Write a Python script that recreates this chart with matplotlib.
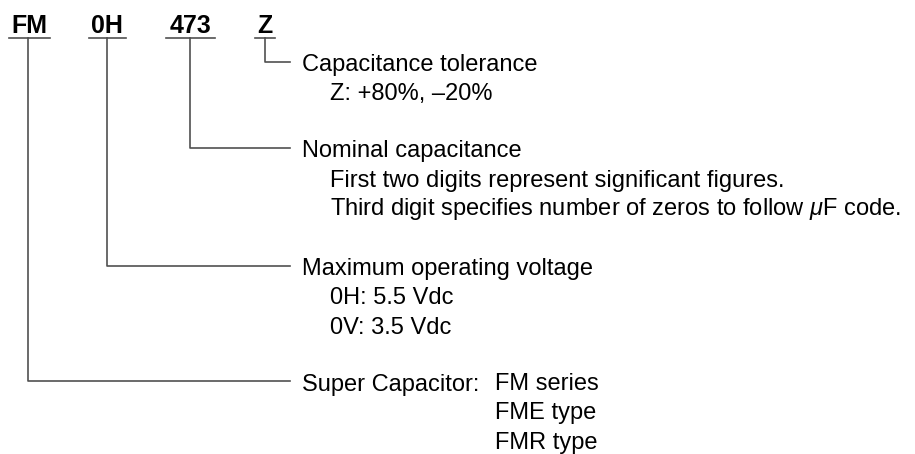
import matplotlib.pyplot as plt

plt.rcParams['font.family'] = ['Liberation Sans', 'DejaVu Sans']
plt.rcParams['mathtext.fontset'] = 'custom'
plt.rcParams['mathtext.it'] = 'Liberation Sans:italic'
plt.rcParams['mathtext.rm'] = 'Liberation Sans'

# part number fields
codes = ["FM", "0H", "473", "Z"]
titles = ["Super Capacitor:", "Maximum operating voltage",
          "Nominal capacitance", "Capacitance tolerance"]
details = [
    [],
    ["0H: 5.5 Vdc", "0V: 3.5 Vdc"],
    ["First two digits represent significant figures.",
     "Third digit specifies number of zeros to follow $\\mu$F code."],
    ["Z: +80%, \u201320%"],
]
series = ["FM series", "FME type", "FMR type"]

# layout (pixels, origin top-left)
code_x = [29, 107, 190, 265]
ul_span = [(9, 50), (89, 126), (166, 215), (255, 275)]
stem_x = [27.5, 107, 190, 264.5]
bend_y = [381, 266, 148, 61.5]
line_end = 290
text_x = 302
indent_x = 330
series_x = 495
step = 29
ul_y = 37.5
gray = "#505050"
fs = 17

fig = plt.figure(figsize=(9.15, 4.54), dpi=100)
ax = fig.add_axes([0, 0, 1, 1])
ax.set_xlim(0, 915)
ax.set_ylim(454, 0)
ax.axis("off")

for i, c in enumerate(codes):
    ax.text(code_x[i], 33, c, ha="center", va="baseline", fontsize=18, fontweight="bold")
    ax.plot(ul_span[i], [ul_y, ul_y], color=gray, lw=1.2)
    ax.plot([stem_x[i], stem_x[i], line_end], [ul_y, bend_y[i], bend_y[i]], color=gray, lw=1.2)
    base = bend_y[i] + 9.5
    ax.text(text_x, base, titles[i], ha="left", va="baseline", fontsize=fs)
    for k, d in enumerate(details[i]):
        ax.text(indent_x, base + (k + 1) * step, d, ha="left", va="baseline", fontsize=fs)

for k, s in enumerate(series):
    ax.text(series_x, bend_y[0] + 9.5 + k * step, s, ha="left", va="baseline", fontsize=fs)

fig.savefig("out.png", dpi=100)
